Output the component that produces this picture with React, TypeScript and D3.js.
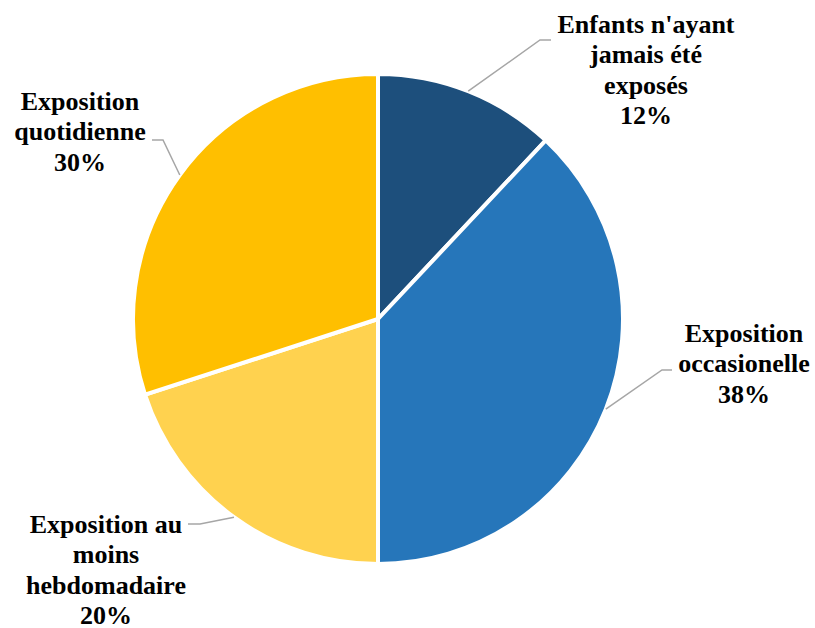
import React from "react";
import * as d3 from "d3";

const categories = [
  "Enfants n'ayant jamais été exposés",
  "Exposition occasionelle",
  "Exposition au moins hebdomadaire",
  "Exposition quotidienne",
];
const values = [12, 38, 20, 30];
const labelLines = [
  ["Enfants n'ayant", "jamais été", "exposés"],
  ["Exposition", "occasionelle"],
  ["Exposition au", "moins", "hebdomadaire"],
  ["Exposition", "quotidienne"],
];
const colors = ["#1D4F7C", "#2676BA", "#FFD24F", "#FFBF00"];

const W = 815;
const H = 628;
const cx = 378;
const cy = 319;
const R = 245;
const FS = 26;
const LH = 30.3;

// label layout: text center x, first baseline y, elbow point, horizontal end
const layout = [
  { x: 646, y: 33, elbow: [540, 40], end: [551, 40] },
  { x: 744, y: 342, elbow: [662, 370], end: [672, 370] },
  { x: 106, y: 533, elbow: [200, 524], end: [188, 524] },
  { x: 80, y: 110, elbow: [163, 140], end: [152, 140] },
];

export default function App() {
  const pie = d3
    .pie<number>()
    .sort(null)
    .value((d) => d);
  const arcs = pie(values);
  const arc = d3.arc<d3.PieArcDatum<number>>().innerRadius(0).outerRadius(R);
  const edgeArc = d3
    .arc<d3.PieArcDatum<number>>()
    .innerRadius(R)
    .outerRadius(R);

  return (
    <svg
      width={W}
      height={H}
      style={{ position: "absolute", left: 0, top: 0, background: "#fff" }}
    >
      <g transform={`translate(${cx},${cy})`}>
        {arcs.map((a, i) => (
          <path
            key={i}
            d={arc(a) || ""}
            fill={colors[i]}
            stroke="#fff"
            strokeWidth={4}
            strokeLinejoin="miter"
          />
        ))}
      </g>
      {arcs.map((a, i) => {
        const [ex, ey] = edgeArc.centroid(a);
        const L = layout[i];
        const pts = [
          [cx + ex, cy + ey],
          L.elbow,
          L.end,
        ];
        return (
          <polyline
            key={"l" + i}
            points={pts.map((p) => p.join(",")).join(" ")}
            fill="none"
            stroke="#A6A6A6"
            strokeWidth={1.5}
          />
        );
      })}
      {arcs.map((a, i) => {
        const L = layout[i];
        const lines = [...labelLines[i], `${d3.format(".0f")(values[i])}%`];
        return (
          <text
            key={"t" + i}
            textAnchor="middle"
            fontFamily="'Liberation Serif', 'Times New Roman', serif"
            fontWeight="bold"
            fontSize={FS}
            fill="#000"
          >
            {lines.map((ln, j) => (
              <tspan key={j} x={L.x} y={L.y + j * LH}>
                {ln}
              </tspan>
            ))}
          </text>
        );
      })}
    </svg>
  );
}
